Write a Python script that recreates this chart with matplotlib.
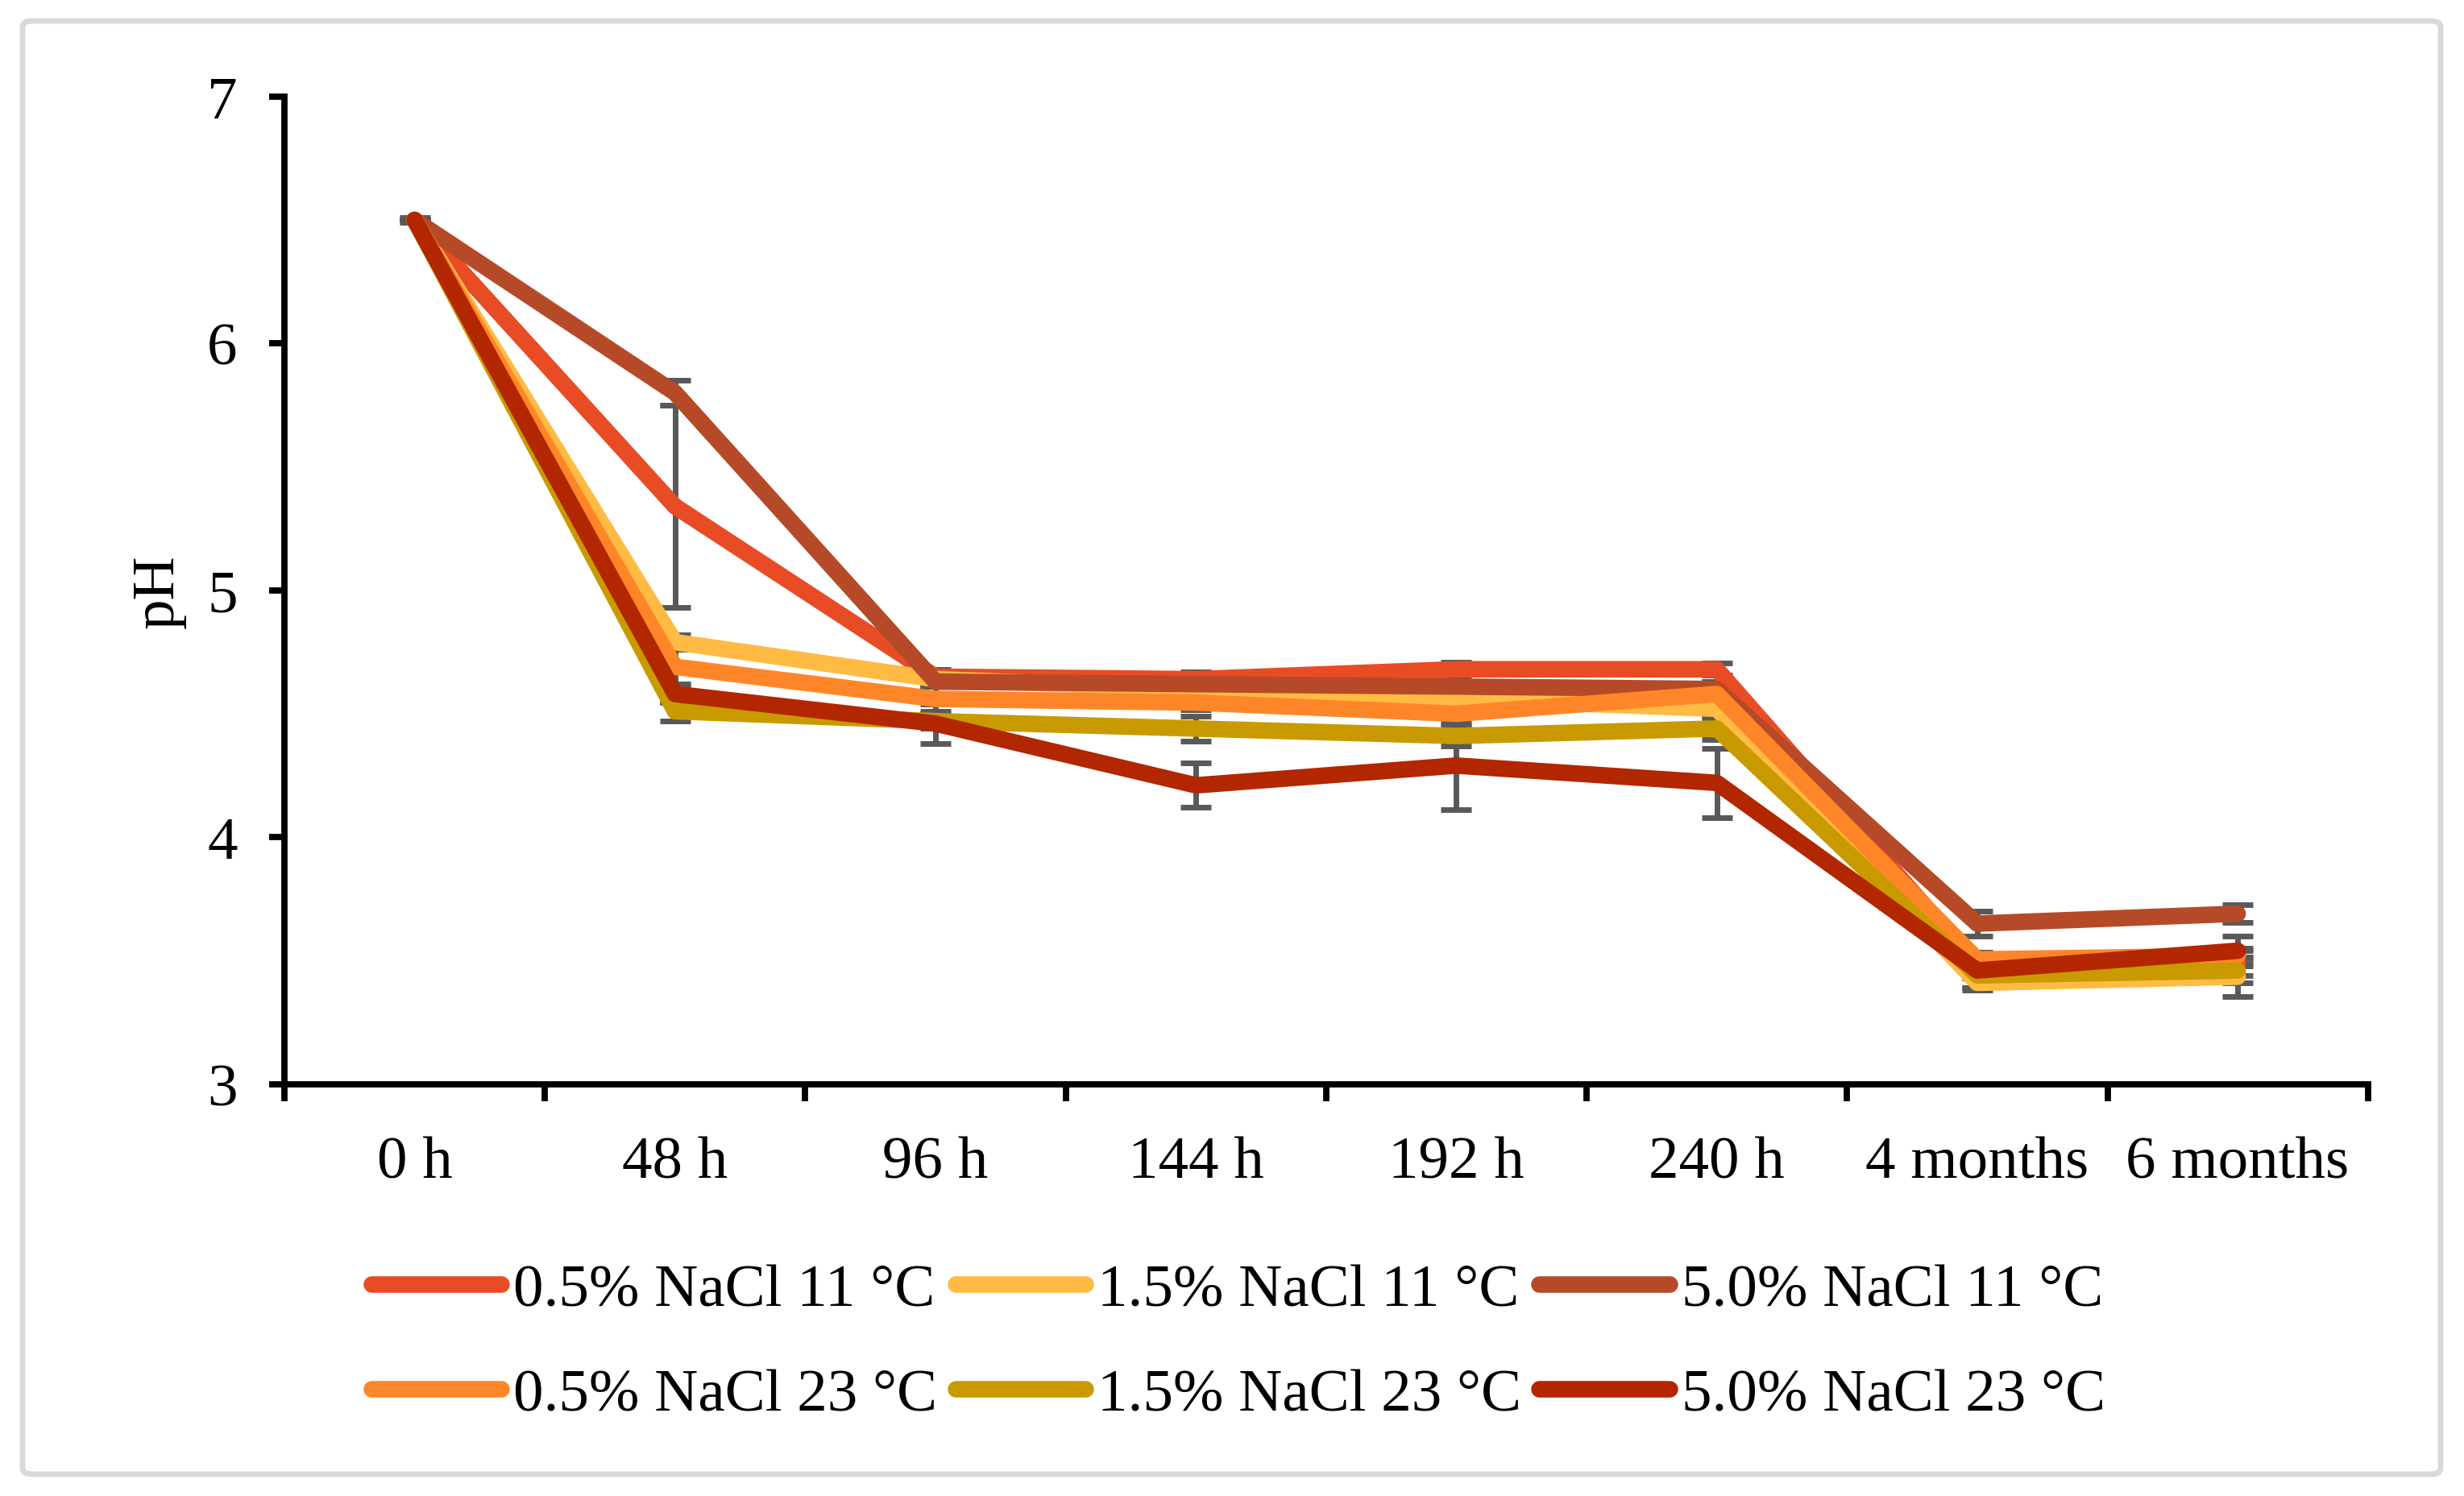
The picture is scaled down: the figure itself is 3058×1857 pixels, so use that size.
import numpy as np
import matplotlib.pyplot as plt
from matplotlib.patches import FancyBboxPatch

plt.rcParams['font.family'] = ['Liberation Serif', 'DejaVu Serif']

# ===============================
# data
# ===============================

categories = ["0 h", "48 h", "96 h", "144 h", "192 h", "240 h", "4 months", "6 months"]

labels = ["0.5% NaCl 11 °C", "1.5% NaCl 11 °C", "5.0% NaCl 11 °C",
          "0.5% NaCl 23 °C", "1.5% NaCl 23 °C", "5.0% NaCl 23 °C"]

colors = ["#E84C25", "#FFBB44", "#B64A28", "#FF8628", "#C99A00", "#B22600"]

ph_05_11 = [6.50, 5.34, 4.65, 4.64, 4.68, 4.68, 3.48, 3.49]
ph_15_11 = [6.50, 4.79, 4.64, 4.60, 4.56, 4.52, 3.41, 3.435]
ph_50_11 = [6.50, 5.80, 4.63, 4.62, 4.61, 4.60, 3.65, 3.69]
ph_05_23 = [6.50, 4.69, 4.56, 4.545, 4.50, 4.58, 3.505, 3.52]
ph_15_23 = [6.50, 4.51, 4.47, 4.44, 4.41, 4.44, 3.44, 3.46]
ph_50_23 = [6.50, 4.58, 4.46, 4.21, 4.29, 4.22, 3.46, 3.54]

sd_05_11 = [0.01, 0.41, 0.03, 0.03, 0.03, 0.025, 0.05, 0.05]
sd_15_11 = [0.00, 0.03, 0.03, 0.03, 0.03, 0.03, 0.03, 0.08]
sd_50_11 = [0.00, 0.05, 0.02, 0.02, 0.02, 0.03, 0.05, 0.035]
sd_05_23 = [0.00, 0.07, 0.05, 0.03, 0.05, 0.05, 0.03, 0.03]
sd_15_23 = [0.00, 0.04, 0.03, 0.05, 0.04, 0.045, 0.05, 0.05]
sd_50_23 = [0.00, 0.035, 0.08, 0.09, 0.18, 0.14, 0.07, 0.06]

values = [ph_05_11, ph_15_11, ph_50_11, ph_05_23, ph_15_23, ph_50_23]
errors = [sd_05_11, sd_15_11, sd_50_11, sd_05_23, sd_15_23, sd_50_23]

# ===============================
# figure
# ===============================

fig = plt.figure(figsize=(15.29, 9.29), dpi=200)
ax = fig.add_axes([0.1154, 0.2752, 0.961 - 0.1154, 0.935 - 0.2752])

x = np.arange(len(categories))

lines = []
for i in range(len(values)):
    ax.errorbar(x, values[i], yerr=errors[i], fmt='none', ecolor='#595959',
                elinewidth=2.5, capsize=7, capthick=2.5, zorder=2)
    ln, = ax.plot(x, values[i], color=colors[i], lw=7.4, label=labels[i],
                  solid_capstyle='round', solid_joinstyle='round', zorder=3 + i)
    lines.append(ln)

ax.set_xlim(-0.5, 7.5)
ax.set_ylim(3, 7)
ax.set_yticks([3, 4, 5, 6, 7])

ax.set_xticks(x)
ax.set_xticklabels(categories)
ax.set_xticks(np.arange(-0.5, 8, 1), minor=True)
ax.tick_params(axis='x', which='major', length=0, pad=23, labelsize=27)
ax.tick_params(axis='x', which='minor', length=7.5, width=2.8, direction='out')
ax.tick_params(axis='y', length=7, width=2.8, pad=14, labelsize=27)

for s in ['top', 'right']:
    ax.spines[s].set_visible(False)
for s in ['left', 'bottom']:
    ax.spines[s].set_linewidth(2.8)

fig.text(0.0645, 0.605, "pH", rotation=90, ha='center', va='center', fontsize=27)

# legend: 2 rows x 3 cols, matplotlib fills column by column
order = [0, 3, 1, 4, 2, 5]
fig.legend([lines[k] for k in order], [labels[k] for k in order],
           loc='center', bbox_to_anchor=(0.5025, 0.102), ncol=3, frameon=False,
           fontsize=27, handlelength=2.15, handletextpad=0.2,
           columnspacing=0.3, labelspacing=0.82)

# outer grey border
border = FancyBboxPatch((28 / 3058, 27 / 1858), 3001 / 3058, 1804 / 1858,
                        boxstyle="round,pad=0,rounding_size=0.004",
                        transform=fig.transFigure, facecolor='none',
                        edgecolor='#D9D9D9', lw=2.5)
fig.patches.append(border)

fig.savefig("out.png", dpi=200)
